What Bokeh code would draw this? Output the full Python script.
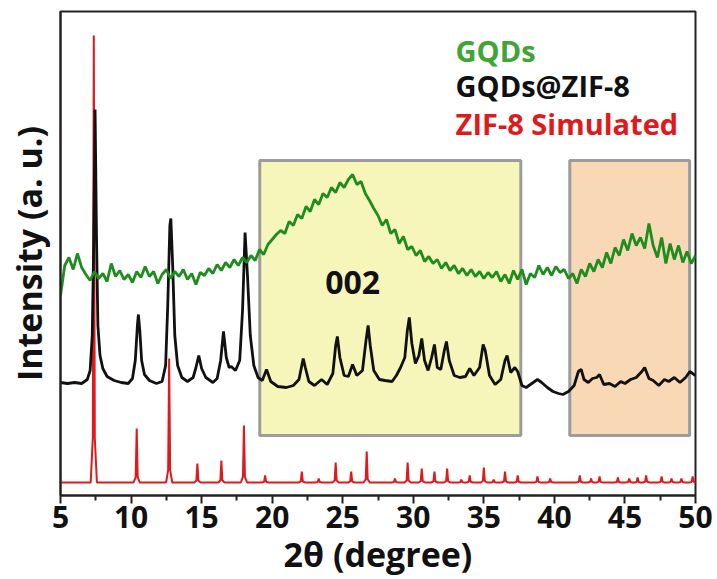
from bokeh.plotting import figure
from bokeh.models import FixedTicker, Label
from bokeh.embed import file_html
from bokeh.resources import INLINE

# ---------------- data ----------------
x_ticks = [5, 10, 15, 20, 25, 30, 35, 40, 45, 50]
x_minor = [7.5, 12.5, 17.5, 22.5, 27.5, 32.5, 37.5, 42.5, 47.5]

# ZIF-8 simulated: stick-like peaks (2theta, intensity), baseline level
sim_base = 13
sim_peak_pos = [7.36, 10.4, 12.7, 14.7, 16.4, 18.0, 19.5, 22.1, 23.3, 24.5, 25.6, 26.7,
                28.7, 29.6, 30.6, 31.5, 32.4, 33.4, 34.0, 35.0, 35.7, 36.5, 37.4, 38.8,
                39.7, 41.8, 42.6, 43.2, 44.5, 45.3, 45.9, 46.5, 47.6, 48.3, 49.0, 49.8]
sim_peak_h = [460, 67, 137, 32, 35, 70, 20, 24, 17, 33, 24, 44,
              17, 33, 27, 24, 27, 16, 20, 28, 16, 24, 20, 19,
              17, 20, 17, 19, 18, 17, 18, 20, 19, 17, 17, 19]

# GQDs@ZIF-8 measured
comp_x = [5.0, 5.5, 6.0, 6.5, 6.9, 7.1, 7.25, 7.35, 7.45, 7.55, 7.65, 7.8, 8.0, 8.3, 8.8,
          9.3, 9.8, 10.1, 10.3, 10.45, 10.52, 10.62, 10.75, 10.95, 11.3, 11.8, 12.2, 12.45,
          12.6, 12.75, 12.82, 12.95, 13.1, 13.3, 13.6, 14.0, 14.4, 14.6, 14.8, 15.0, 15.3,
          15.8, 16.1, 16.35, 16.55, 16.75, 16.95, 17.1, 17.4, 17.7, 17.9, 18.08, 18.25,
          18.45, 18.7, 19.0, 19.3, 19.6, 19.9, 20.4, 21.0, 21.5, 21.9, 22.1, 22.2, 22.35,
          22.6, 23.0, 23.5, 23.9, 24.3, 24.5, 24.62, 24.8, 25.1, 25.4, 25.7, 26.0, 26.4,
          26.65, 26.8, 26.95, 27.2, 27.6, 28.0, 28.5, 28.8, 29.1, 29.4, 29.58, 29.72, 29.9,
          30.15, 30.4, 30.6, 30.8, 31.05, 31.3, 31.5, 31.7, 31.95, 32.2, 32.35, 32.55, 32.9,
          33.3, 33.7, 34.0, 34.3, 34.7, 34.95, 35.1, 35.4, 35.8, 36.2, 36.5, 36.65, 36.9,
          37.2, 37.4, 37.7, 38.0, 38.4, 38.8, 39.1, 39.5, 39.9, 40.3, 40.6, 41.0, 41.4,
          41.7, 41.9, 42.1, 42.4, 42.7, 43.0, 43.2, 43.5, 43.9, 44.3, 44.7, 45.0, 45.4,
          45.8, 46.2, 46.4, 46.7, 47.0, 47.4, 47.8, 48.1, 48.5, 48.9, 49.3, 49.6, 50.0]
comp_y = [113, 112, 113, 112, 116, 125, 160, 250, 386, 260, 170, 140, 127, 119, 115,
          113, 112, 117, 135, 170, 181, 165, 135, 121, 115, 112, 114, 130,
          190, 270, 277, 230, 160, 130, 118, 114, 118, 128, 140, 127, 118,
          113, 117, 135, 164, 138, 128, 129, 125, 135, 185, 263, 220,
          160, 130, 118, 115, 126, 114, 109, 108, 110, 116, 130, 137, 128,
          114, 110, 116, 111, 122, 150, 159, 138, 120, 119, 131, 120, 125,
          155, 170, 150, 125, 116, 115, 114, 120, 128, 138, 165, 178, 152,
          132, 140, 157, 135, 125, 138, 151, 128, 126, 145, 154, 135, 120,
          118, 119, 127, 120, 128, 151, 145, 120, 111, 116, 135, 140, 123,
          128, 124, 110, 108, 112, 116, 113, 108, 104, 102, 101, 104, 110,
          124, 126, 116, 113, 117, 118, 121, 111, 112, 109, 114, 112, 116,
          118, 124, 128, 117, 115, 110, 116, 114, 118, 113, 118, 124, 120]

# GQDs measured
gqd_x = [5.0, 5.3, 5.6, 5.9, 6.2, 6.5, 6.8, 7.1, 7.4, 7.7, 8.0, 8.3, 8.6, 8.9, 9.2, 9.5,
         9.8, 10.1, 10.4, 10.7, 11.0, 11.3, 11.6, 11.9, 12.2, 12.5, 12.8, 13.1, 13.4, 13.7,
         14.0, 14.3, 14.6, 14.9, 15.2, 15.5, 15.8, 16.1, 16.4, 16.7, 17.0, 17.3, 17.6, 17.9,
         18.2, 18.5, 18.8, 19.1, 19.4, 19.7, 20.0, 20.3, 20.6, 20.9, 21.2, 21.5, 21.8, 22.1,
         22.4, 22.7, 23.0, 23.3, 23.6, 23.9, 24.2, 24.5, 24.8, 25.1, 25.4, 25.7, 26.0, 26.3,
         26.6, 26.9, 27.2, 27.5, 27.8, 28.1, 28.4, 28.7, 29.0, 29.3, 29.6, 29.9, 30.2, 30.5,
         30.8, 31.1, 31.4, 31.7, 32.0, 32.3, 32.6, 32.9, 33.2, 33.5, 33.8, 34.1, 34.4, 34.7,
         35.0, 35.3, 35.6, 35.9, 36.2, 36.5, 36.8, 37.1, 37.4, 37.7, 38.0, 38.3, 38.6, 38.9,
         39.2, 39.5, 39.8, 40.1, 40.4, 40.7, 41.0, 41.3, 41.6, 41.9, 42.2, 42.5, 42.8, 43.1,
         43.4, 43.7, 44.0, 44.3, 44.6, 44.9, 45.2, 45.5, 45.8, 46.1, 46.4, 46.7, 47.0, 47.3,
         47.6, 47.9, 48.2, 48.5, 48.8, 49.1, 49.4, 49.7, 50.0]
gqd_y = [200, 230, 238, 226, 242, 228, 221, 215, 224, 217, 222, 214, 232, 219, 225, 216,
         221, 213, 224, 218, 229, 219, 224, 212, 221, 226, 217, 224, 219, 226,
         216, 222, 211, 223, 220, 227, 222, 231, 225, 233, 228, 236, 230, 238,
         233, 240, 235, 246, 241, 251, 256, 261, 265, 262, 274, 270, 281, 277,
         289, 284, 296, 291, 302, 298, 308, 303, 313, 308, 316, 321, 311, 314,
         302, 295, 287, 280, 270, 276, 262, 266, 252, 259, 246, 249, 240, 245,
         234, 239, 232, 236, 227, 233, 225, 230, 222, 227, 220, 226, 219, 224,
         217, 223, 218, 224, 214, 221, 212, 225, 216, 226, 211, 222, 218, 230,
         221, 228, 220, 229, 223, 226, 217, 222, 212, 226, 219, 232, 224, 236,
         228, 243, 232, 248, 240, 256, 245, 262, 250, 258, 247, 272, 250, 238,
         258, 232, 252, 236, 250, 233, 244, 232, 240]

# highlighted 2theta windows
box_left = [19.12, 41.09]
box_right = [37.62, 49.58]
box_bottom = [60, 60]
box_top = [335, 335]
box_colors = ["#F7F6BA", "#F8D8B5"]

legend_labels = ["GQDs", "GQDs@ZIF-8", "ZIF-8 Simulated"]
legend_colors = ["#3FA535", "#111111", "#E0191B"]
legend_y = [445, 410, 372]

# ---------------- build the peak profile for the simulated pattern ----------------
sim_x, sim_y = [5.0], [sim_base]
for pos, h in zip(sim_peak_pos, sim_peak_h):
    sim_x += [pos - 0.22, pos - 0.07, pos, pos + 0.07, pos + 0.22]
    sim_y += [sim_base, sim_base + 0.1 * (h - sim_base), h,
              sim_base + 0.1 * (h - sim_base), sim_base]
sim_x.append(50.0)
sim_y.append(sim_base)

# ---------------- figure ----------------
p = figure(width=717, height=579, x_range=(5, 50), y_range=(0, 484),
           output_backend="svg", toolbar_location=None,
           min_border_left=60, min_border_right=22, min_border_top=11, min_border_bottom=84,
           background_fill_color="white", border_fill_color="white")
p.grid.visible = False
p.outline_line_color = "#222222"
p.outline_line_width = 2

p.quad(left=box_left, right=box_right, bottom=box_bottom, top=box_top,
       fill_color=box_colors, line_color="#9C9C9C", line_width=3)

p.line(sim_x, sim_y, line_color="#E0191B", line_width=2)
p.line(comp_x, comp_y, line_color="#111111", line_width=2.8)
p.line(gqd_x, gqd_y, line_color="#1E8C1E", line_width=2.8)

font = "Open Sans"
p.add_layout(Label(x=25.7, y=213, text="002", text_align="center", text_baseline="middle",
                   text_font=font, text_font_style="bold", text_font_size="32px",
                   text_color="#111111"))
for lab, col, yy in zip(legend_labels, legend_colors, legend_y):
    p.add_layout(Label(x=33.0, y=yy, text=lab, text_align="left", text_baseline="middle",
                       text_font=font, text_font_style="bold", text_font_size="29px",
                       text_color=col))

xa = p.xaxis[0]
xa.ticker = FixedTicker(ticks=x_ticks, minor_ticks=x_minor)
xa.axis_line_width = 2
xa.axis_line_color = "#222222"
xa.major_tick_line_width = 2
xa.minor_tick_line_width = 2
xa.major_tick_line_color = "#222222"
xa.minor_tick_line_color = "#222222"
xa.major_tick_in = 0
xa.major_tick_out = 8
xa.minor_tick_in = 0
xa.minor_tick_out = 5
xa.major_label_text_font = font
xa.major_label_text_font_style = "bold"
xa.major_label_text_font_size = "30px"
xa.major_label_text_color = "#111111"
xa.major_label_standoff = 2
xa.axis_label = "2θ (degree)"
xa.axis_label_text_font = font
xa.axis_label_text_font_style = "bold"
xa.axis_label_text_font_size = "34px"
xa.axis_label_text_color = "#111111"
xa.axis_label_standoff = 0

ya = p.yaxis[0]
ya.ticker = FixedTicker(ticks=[])
ya.axis_line_width = 2
ya.axis_line_color = "#222222"
ya.major_label_text_font_size = "0px"
ya.axis_label = "Intensity (a. u.)"
ya.axis_label_text_font = font
ya.axis_label_text_font_style = "bold"
ya.axis_label_text_font_size = "34px"
ya.axis_label_text_color = "#111111"
ya.axis_label_standoff = 9

open("out.html", "w").write(file_html(p, INLINE))
